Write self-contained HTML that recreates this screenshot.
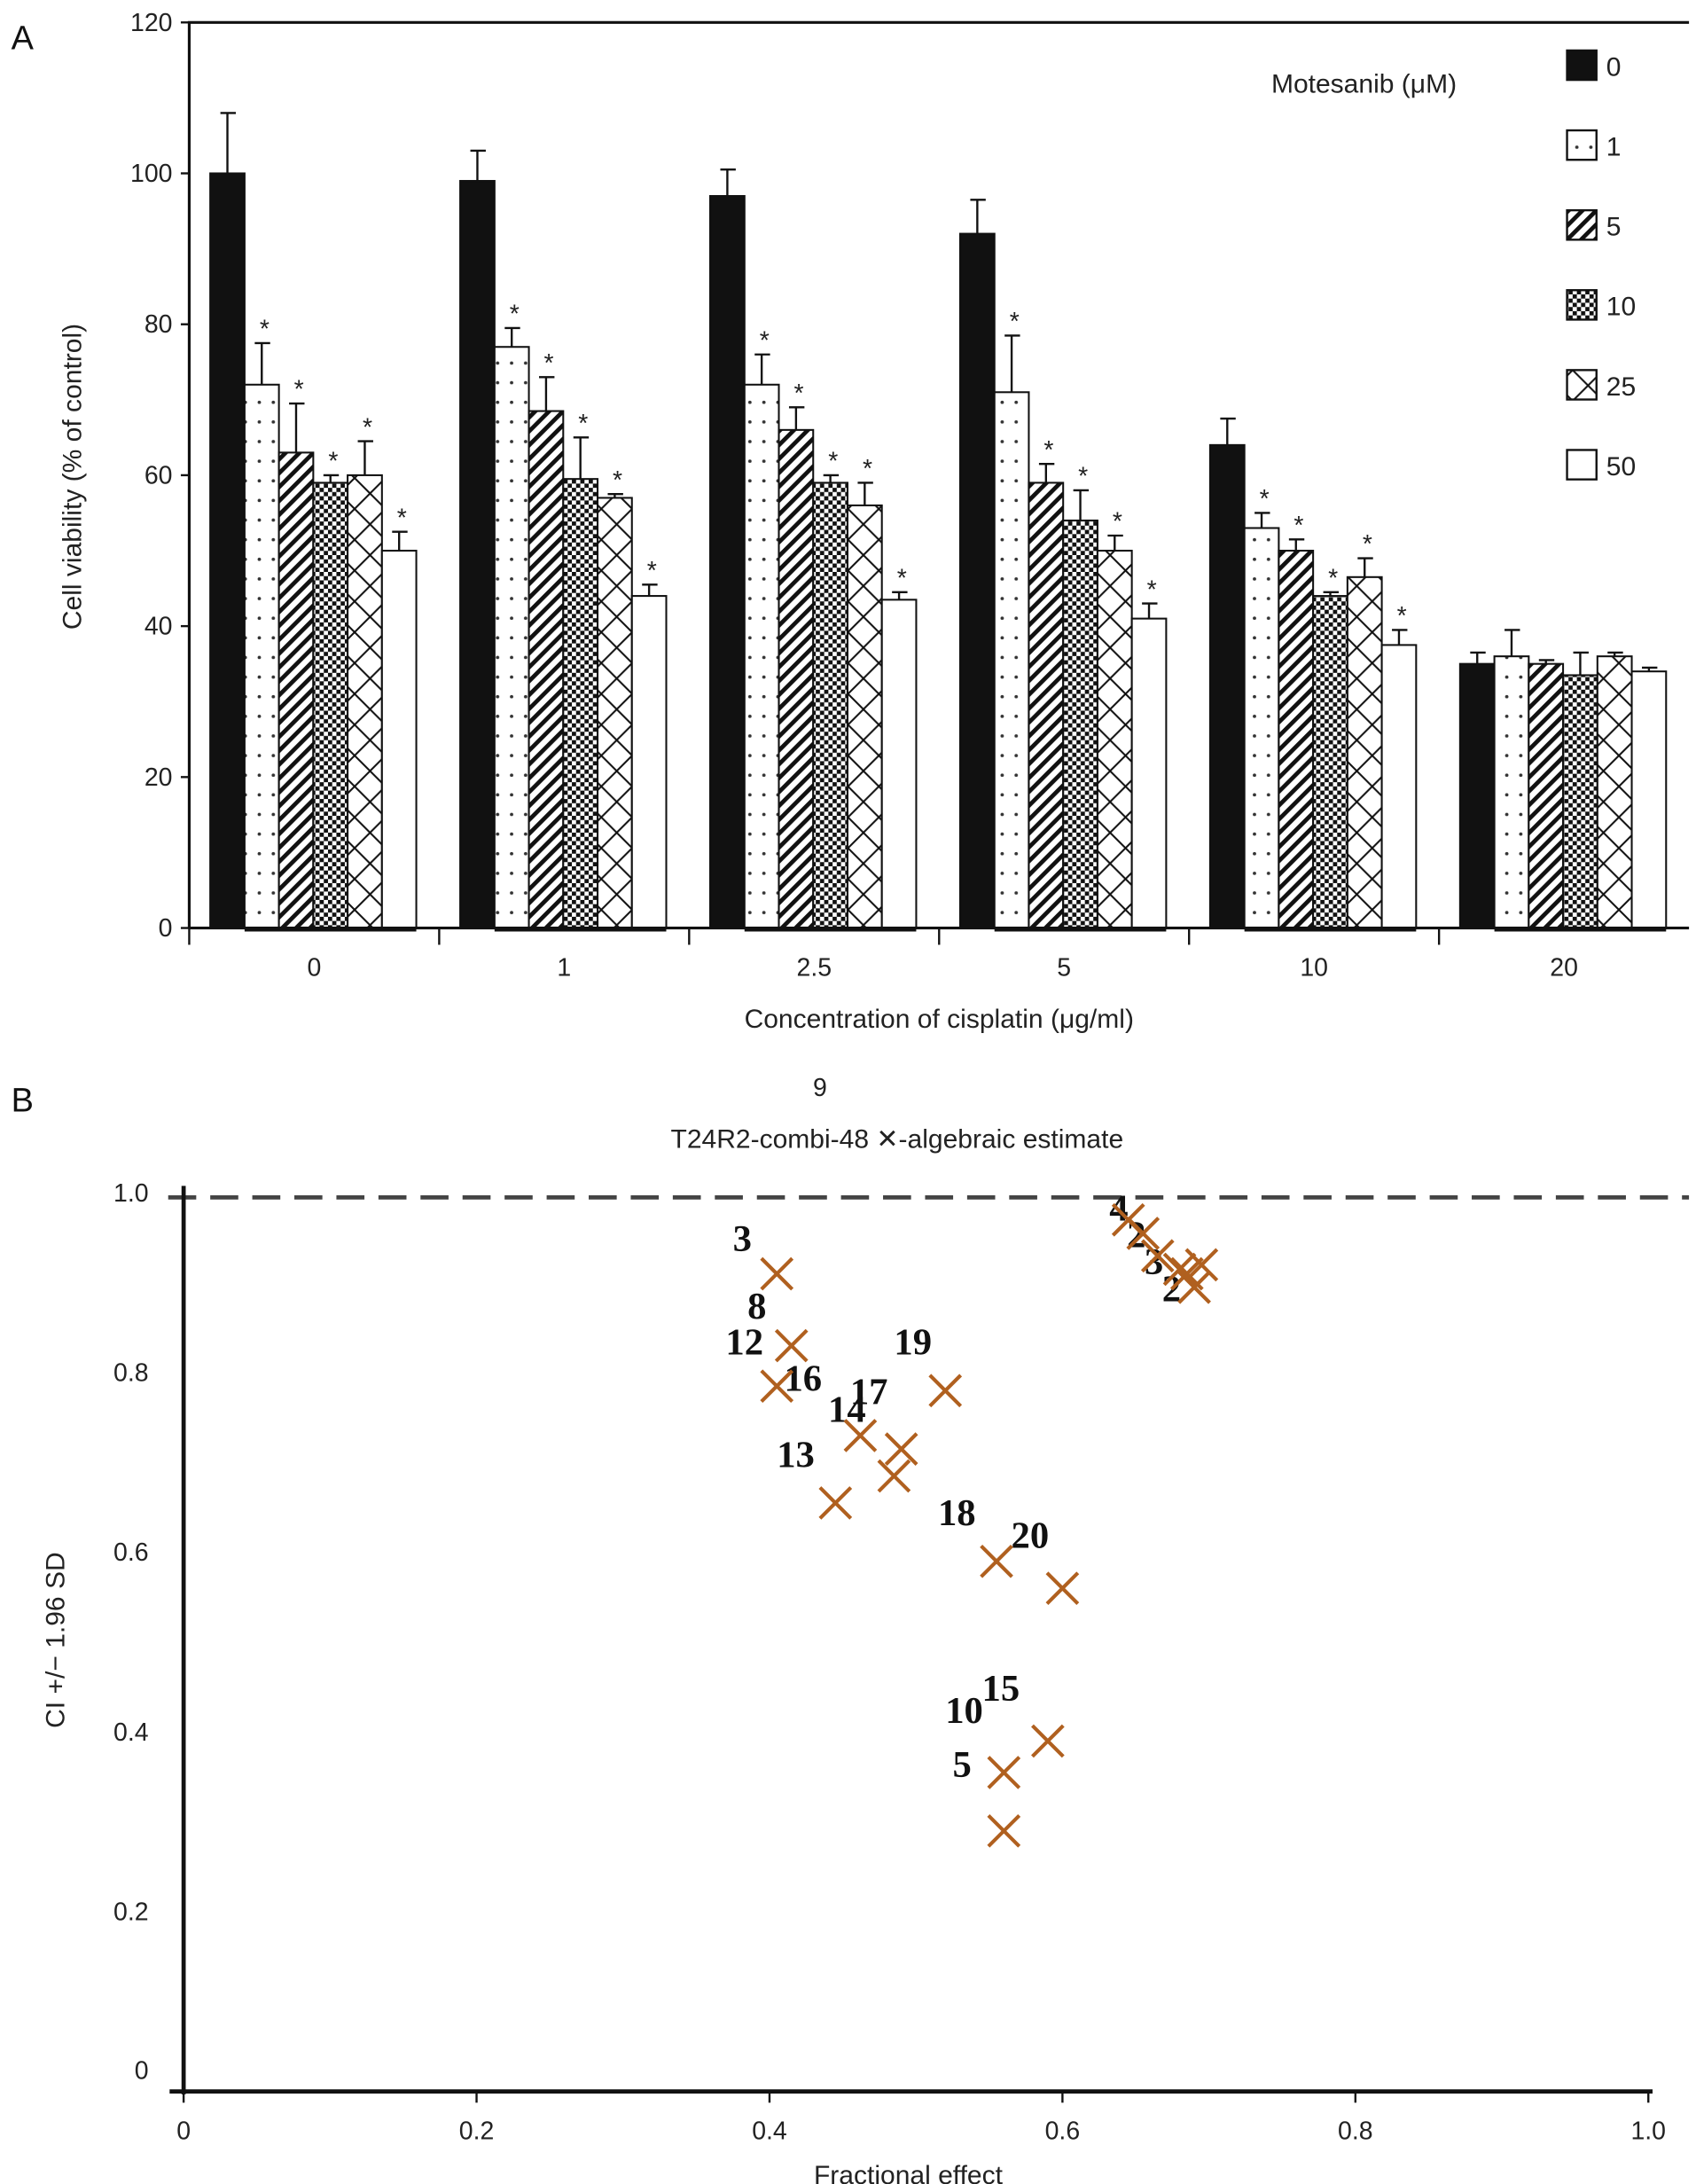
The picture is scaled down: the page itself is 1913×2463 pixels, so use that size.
<!DOCTYPE html>
<html><head><meta charset="utf-8"><style>
html,body{margin:0;padding:0;background:#fff;}
svg{display:block;font-family:"Liberation Sans",sans-serif;}
.tk{font-size:18px;fill:#222;}
.pl{font-family:"Liberation Serif",serif;font-weight:bold;font-size:27px;fill:#111;}
</style></head><body>
<svg id="fig" width="1913" height="2463" viewBox="0 0 1210 1558" preserveAspectRatio="none" xmlns="http://www.w3.org/2000/svg">
<defs>
<pattern id="pDot" width="10" height="14" patternUnits="userSpaceOnUse"><rect width="10" height="14" fill="#fff"/><circle cx="5" cy="7" r="1.2" fill="#333"/></pattern>
<pattern id="pHatch" width="7" height="7" patternUnits="userSpaceOnUse" patternTransform="rotate(45)"><rect width="7" height="7" fill="#fff"/><rect width="3" height="7" fill="#111"/></pattern>
<pattern id="pCheck" width="6" height="6" patternUnits="userSpaceOnUse"><rect width="6" height="6" fill="#fff"/><rect width="3" height="3" fill="#111"/><rect x="3" y="3" width="3" height="3" fill="#111"/></pattern>
<pattern id="pCross" width="22" height="22" patternUnits="userSpaceOnUse"><rect width="22" height="22" fill="#fff"/><path d="M0 0L22 22M22 0L0 22" stroke="#111" stroke-width="1.3"/></pattern>
</defs>
<g id="chartA"></g>
<g id="chartB"></g>
</svg>
<script>
const NS="http://www.w3.org/2000/svg";
const categories=["0","1","2.5","5","10","20"];
const seriesNames=["0","1","5","10","25","50"];
const v0=[100,99,97,92,64,35];
const v1=[72,77,72,71,53,36];
const v5=[63,68.5,66,59,50,35];
const v10=[59,59.5,59,54,44,33.5];
const v25=[60,57,56,50,46.5,36];
const v50=[50,44,43.5,41,37.5,34];
const e0=[8,4,3.5,4.5,3.5,1.5];
const e1=[5.5,2.5,4,7.5,2,3.5];
const e5=[6.5,4.5,3,2.5,1.5,0.5];
const e10=[1,5.5,1,4,0.5,3];
const e25=[4.5,0.5,3,2,2.5,0.5];
const e50=[2.5,1.5,1,2,2,0.5];
const starred=[true,true,true,true,true,false];
const yTicksA=[0,20,40,60,80,100,120];
// panel B data
const fx=[0.405,0.415,0.405,0.445,0.462,0.49,0.485,0.52,0.555,0.60,0.59,0.56,0.56,0.645,0.655,0.665,0.68,0.69,0.695,0.685];
const ci=[0.91,0.83,0.785,0.655,0.73,0.715,0.685,0.78,0.59,0.56,0.39,0.355,0.29,0.97,0.955,0.93,0.915,0.895,0.92,0.91];
const ptLabels=["3","8","12","13","14","16","17","19","18","20","15","10","5"];
const ptLabelX=[0.375,0.385,0.37,0.405,0.44,0.41,0.455,0.485,0.515,0.565,0.545,0.52,0.525];
const ptLabelY=[0.935,0.86,0.82,0.695,0.745,0.78,0.765,0.82,0.63,0.605,0.435,0.41,0.35];
const xTicksB=[0,0.2,0.4,0.6,0.8,1.0];
const yTicksB=[0,0.2,0.4,0.6,0.8,1.0];

function mk(parent,tag,attrs,text){const e=document.createElementNS(NS,tag);for(const k in attrs)e.setAttribute(k,attrs[k]);if(text!==undefined)e.textContent=text;parent.appendChild(e);return e;}

// ---------- Panel A ----------
const A=document.getElementById('chartA');
const ax0=135,ax1=1205,ay0=662,ay1=16;
const yA=v=>ay0-(v/120)*(ay0-ay1);
const gw=(ax1-ax0)/categories.length;
const bw=24.5;
const fills=["#111","url(#pDot)","url(#pHatch)","url(#pCheck)","url(#pCross)","#fff"];
const vals=[v0,v1,v5,v10,v25,v50], errs=[e0,e1,e5,e10,e25,e50];
let t;
t=mk(A,'text',{x:8,y:35,'font-size':24,fill:'#111'},'A');


let fr=mk(A,'path',{d:`M${ax0} ${ay0}V${ay1}H${ax1}`,fill:'none',stroke:'#111','stroke-width':2});


yTicksA.forEach(v=>{
  mk(A,'line',{x1:ax0-6,x2:ax0,y1:yA(v),y2:yA(v),stroke:'#111','stroke-width':1.5});
  const l=mk(A,'text',{x:ax0-12,y:yA(v)+6,'text-anchor':'end',class:'tk'},v);
  
  
});
categories.forEach((c,i)=>{
  const gx=ax0+i*gw;
  mk(A,'line',{x1:gx,x2:gx,y1:ay0,y2:ay0+12,stroke:'#111','stroke-width':1.5});
  const l=mk(A,'text',{x:gx+gw/2,y:ay0+34,'text-anchor':'middle',class:'tk'},c);
  
  
  for(let s=0;s<6;s++){
    const x=gx+15+s*bw, v=vals[s][i], e=errs[s][i];
    const r=mk(A,'rect',{x:x,y:yA(v),width:bw,height:ay0-yA(v),fill:fills[s],stroke:'#111','stroke-width':1.3});
    
    
    mk(A,'path',{d:`M${x+bw/2} ${yA(v)}V${yA(v+e)}M${x+bw/2-5} ${yA(v+e)}H${x+bw/2+6}`,stroke:'#111','stroke-width':1.5,fill:'none'});
    if(s>0&&starred[i]){mk(A,'text',{x:x+bw/2+2,y:yA(v+e)-4,'text-anchor':'middle','font-size':18,fill:'#222'},'*');}
  }
  mk(A,'line',{x1:gx+15+bw,x2:gx+15+6*bw,y1:ay0+1,y2:ay0+1,stroke:'#111','stroke-width':3});
});
mk(A,'line',{x1:ax0,x2:ax1,y1:ay0,y2:ay0,stroke:'#111','stroke-width':2});
t=mk(A,'text',{x:(ax0+ax1)/2,y:733,'text-anchor':'middle','font-size':19,fill:'#222'},'Concentration of cisplatin (μg/ml)');


t=mk(A,'text',{x:0,y:0,transform:'translate(58,340) rotate(-90)','text-anchor':'middle','font-size':19,fill:'#222'},'Cell viability (% of control)');


t=mk(A,'text',{x:907,y:66,'font-size':19,fill:'#222'},'Motesanib (μM)');


seriesNames.forEach((n,s)=>{
  const y=36+s*57;
  const r=mk(A,'rect',{x:1118,y:y,width:21,height:21,fill:fills[s],stroke:'#111','stroke-width':1.5});
  
  
  mk(A,'text',{x:1146,y:y+18,'font-size':19,fill:'#222'},n);
});

// ---------- Panel B ----------
const B=document.getElementById('chartB');
const bx0=131,bx1=1176,by0=1492,by1=851;
const xB=v=>bx0+v*(bx1-bx0);
const yB=v=>by0-v*(by0-by1);
t=mk(B,'text',{x:8,y:793,'font-size':24,fill:'#111'},'B');


t=mk(B,'text',{x:585,y:782,'text-anchor':'middle','font-size':18,fill:'#222'},'9');


t=mk(B,'text',{x:640,y:819,'text-anchor':'middle','font-size':19,fill:'#222'},'T24R2-combi-48 ✕-algebraic estimate');


let ref=mk(B,'line',{x1:120,x2:1205,y1:yB(0.995),y2:yB(0.995),stroke:'#444','stroke-width':3,'stroke-dasharray':'20 10'});


mk(B,'line',{x1:bx0,x2:bx0,y1:yB(1.0)-5,y2:by0+2,stroke:'#111','stroke-width':3});
mk(B,'line',{x1:bx0-10,x2:bx1+3,y1:by0,y2:by0,stroke:'#111','stroke-width':3});
yTicksB.forEach(v=>{
  const l=mk(B,'text',{x:bx0-25,y:(v===0?1477:yB(v))+6,'text-anchor':'end',class:'tk'},v===0?'0':v.toFixed(1));
  
  
});
xTicksB.forEach(v=>{
  mk(B,'line',{x1:xB(v),x2:xB(v),y1:by0,y2:by0+8,stroke:'#111','stroke-width':1.5});
  const l=mk(B,'text',{x:xB(v),y:by0+34,'text-anchor':'middle',class:'tk'},v===0?'0':v.toFixed(1));
  
  
});
t=mk(B,'text',{x:648,y:1558,'text-anchor':'middle','font-size':19,fill:'#222'},'Fractional effect');


t=mk(B,'text',{x:0,y:0,transform:'translate(46,1170) rotate(-90)','text-anchor':'middle','font-size':19,fill:'#222'},'CI +/− 1.96 SD');


// top cluster labels
["4","2","3","2"].forEach((s,i)=>{mk(B,'text',{x:xB(0.632+i*0.012),y:yB(0.985-i*0.03)+10,class:'pl','font-size':24},s);});
ptLabels.forEach((s,i)=>{
  const l=mk(B,'text',{x:xB(ptLabelX[i]),y:yB(ptLabelY[i]),class:'pl'},s);
  
  
});
fx.forEach((v,i)=>{
  const x=xB(v),y=yB(ci[i]),h=11;
  const p=mk(B,'path',{d:`M${x-h} ${y-h}L${x+h} ${y+h}M${x+h} ${y-h}L${x-h} ${y+h}`,stroke:'#b0601f','stroke-width':2.6,fill:'none'});
  
  
});
</script>
</body></html>
